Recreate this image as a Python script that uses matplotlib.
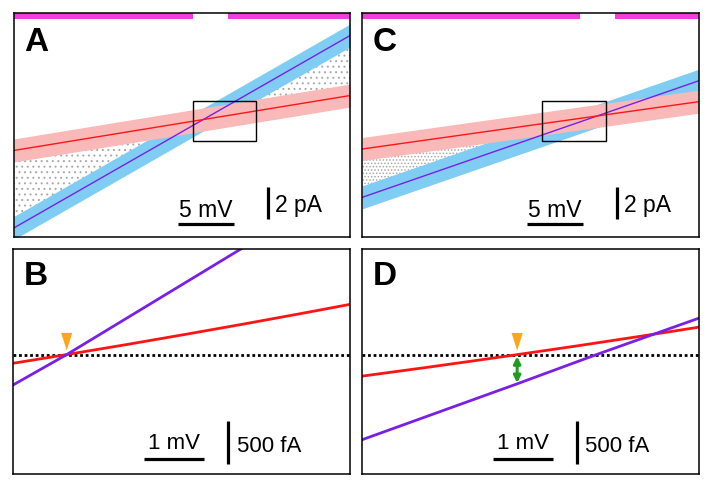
import matplotlib.pyplot as plt
import matplotlib.patches as mpatches
import matplotlib.transforms as mtransforms

plt.rcParams["font.family"] = ["Liberation Sans", "DejaVu Sans"]
plt.rcParams["hatch.linewidth"] = 0.7

RED = "#ff1414"
PURPLE = "#7a1fe8"
PINK = "#f9b9b9"
SKY = "#80cdf3"
MAGENTA = "#f23fdc"
ORANGE = "#ffa51c"
GREEN = "#1f9b1f"
GRAY = "#a8a8a8"

# ---- data (mV on x, pA on y) ------------------------------------------------
# panel A: whole ramp, fitted lines
A_V = [-16.6, 13.4]
A_RED = [-1.79, 1.64]
A_PUR = [-6.63, 5.39]
A_BARS = [(-16.6, -0.63), (2.5, 13.4)]
A_ZOOM = (-0.63, 5.0, -1.19, 1.31)

# panel C
C_V = [-19.0, 11.05]
C_RED = [-1.91, 1.05]
C_PUR = [-4.93, 2.36]
C_BARS = [(-19.0, 0.43), (3.55, 11.05)]
C_ZOOM = (-2.94, 2.72, -1.43, 1.11)

NOISE = 0.72  # half width of the recorded band, pA

# panel B: zoom on A
B_RED_V = [-0.89, 0.0, 1.0, 2.0, 3.0, 4.0, 4.73]
B_RED_I = [-0.10, 0.0, 0.116, 0.236, 0.359, 0.486, 0.581]
B_PUR_V = [-0.89, 0.0, 3.0]
B_PUR_I = [-0.35, 0.0, 1.26]

# panel D: zoom on C
D_RED_V = [-2.58, -1.5, -0.62, 0.0, 1.0, 2.0, 3.03]
D_RED_I = [-0.25, -0.148, -0.062, 0.0, 0.102, 0.208, 0.32]
D_PUR_V = [-2.58, 0.0, 1.32, 3.03]
D_PUR_I = [-0.99, -0.34, 0.0, 0.425]
D_GAP = (0.0, -0.02, -0.33)  # V, top, bottom of the green arrow

fig = plt.figure(figsize=(7.14, 4.89), dpi=100)
W, H = 714.0, 489.0
axA = fig.add_axes([14 / W, 1 - 238 / H, 336 / W, 224 / H])
axC = fig.add_axes([362.3 / W, 1 - 238 / H, 336.7 / W, 224 / H])
axB = fig.add_axes([13.3 / W, 1 - 475 / H, 337 / W, 225 / H])
axD = fig.add_axes([362.3 / W, 1 - 475 / H, 336.7 / W, 225 / H])

for ax in (axA, axB, axC, axD):
    ax.set_xticks([])
    ax.set_yticks([])
    for s in ax.spines.values():
        s.set_linewidth(1.1)
        s.set_zorder(10)


def scalebars(ax, xlen, ylen, xlab, ylab, hx, hy, vx, vy, fs, xoff, yoff):
    x0, x1 = ax.get_xlim()
    y0, y1 = ax.get_ylim()
    bx, by = x0 + hx * (x1 - x0), y0 + hy * (y1 - y0)
    ax.plot([bx, bx + xlen], [by, by], color="k", lw=2.3, solid_capstyle="butt")
    ax.annotate(xlab, (bx + xlen / 2, by), xytext=(0, xoff), textcoords="offset points",
                ha="center", va="baseline", fontsize=fs)
    cx, cy = x0 + vx * (x1 - x0), y0 + vy * (y1 - y0)
    ax.plot([cx, cx], [cy, cy + ylen], color="k", lw=2.3, solid_capstyle="butt")
    ax.annotate(ylab, (cx, cy + ylen / 2), xytext=yoff, textcoords="offset points",
                ha="left", va="center", fontsize=fs)


def ramp_panel(ax, v, red, pur, bars, zoom, ylim, hatch, label):
    ax.set_xlim(v[0], v[1])
    ax.set_ylim(*ylim)
    # transition points between the two states
    ax.fill_between(v, red, pur, facecolor="none", edgecolor=GRAY, hatch=hatch,
                    linewidth=0, zorder=1)
    ax.fill_between(v, [p - NOISE for p in pur], [p + NOISE for p in pur],
                    color=SKY, lw=0, zorder=2)
    ax.fill_between(v, [r - NOISE for r in red], [r + NOISE for r in red],
                    color=PINK, lw=0, zorder=3)
    ax.plot(v, pur, color=PURPLE, lw=1.0, zorder=4)
    ax.plot(v, red, color=RED, lw=1.0, zorder=5)
    for b0, b1 in bars:
        ax.add_patch(mpatches.Rectangle((b0, 0.973), b1 - b0, 0.027, color=MAGENTA, lw=0,
                                        transform=ax.get_xaxis_transform(), zorder=6))
    zx0, zx1, zy0, zy1 = zoom
    ax.add_patch(mpatches.Rectangle((zx0, zy0), zx1 - zx0, zy1 - zy0, fill=False,
                                    ec="k", lw=1.0, zorder=7))
    ax.text(0.03, 0.94, label, transform=ax.transAxes, fontsize=24, fontweight="bold",
            ha="left", va="top")
    scalebars(ax, 5, 2, "5 mV", "2 pA", 0.488, 0.058, 0.756, 0.082, 16.5, 5.5, (5, -1))


def tri_marker(ax, x, y):
    tr = fig.dpi_scale_trans + mtransforms.ScaledTranslation(x, y, ax.transData)
    pts = [(-4.0, 15.6), (4.0, 15.6), (0.0, 2.9)]
    ax.add_patch(mpatches.Polygon([(px / 72, py / 72) for px, py in pts], closed=True,
                                  color=ORANGE, lw=0, transform=tr, zorder=6))


def zoom_panel(ax, zoom, rv, ri, pv, pi, label):
    zx0, zx1, zy0, zy1 = zoom
    ax.set_xlim(zx0, zx1)
    ax.set_ylim(zy0, zy1)
    ax.axhline(0, color="k", lw=2.0, ls=(0, (1, 1)), zorder=1)
    ax.plot(rv, ri, color=RED, lw=2.0, zorder=3)
    ax.plot(pv, pi, color=PURPLE, lw=2.0, zorder=4)
    tri_marker(ax, 0.0, 0.0)
    ax.text(0.031, 0.952, label, transform=ax.transAxes, fontsize=24, fontweight="bold",
            ha="left", va="top")
    scalebars(ax, 1, 0.5, "1 mV", "500 fA", 0.388, 0.067, 0.638, 0.044, 16, 7.7, (6, -2))


ramp_panel(axA, A_V, A_RED, A_PUR, A_BARS, A_ZOOM, (-7.2, 6.8), "...", "A")
ramp_panel(axC, C_V, C_RED, C_PUR, C_BARS, C_ZOOM, (-7.41, 6.59), ".....", "C")

zoom_panel(axB, (-0.89, 4.73, -1.38, 1.22), B_RED_V, B_RED_I, B_PUR_V, B_PUR_I, "B")
zoom_panel(axD, (-2.58, 3.03, -1.39, 1.23), D_RED_V, D_RED_I, D_PUR_V, D_PUR_I, "D")

gv, g0, g1 = D_GAP
axD.annotate("", xy=(gv, g1), xytext=(gv, g0),
             arrowprops=dict(arrowstyle="<|-|>", color=GREEN, lw=2.2, mutation_scale=10,
                             shrinkA=0, shrinkB=0), zorder=5)

fig.savefig("out.png", dpi=100)
